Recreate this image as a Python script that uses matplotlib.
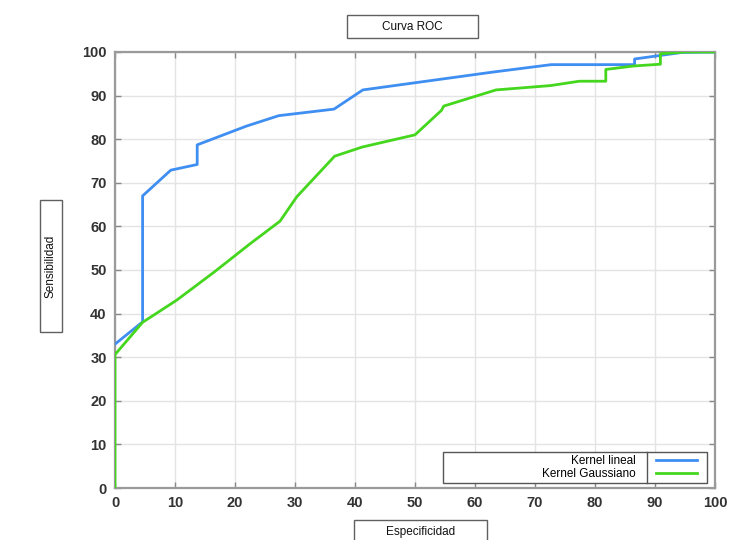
import matplotlib
matplotlib.use("Agg")
import matplotlib.pyplot as plt
from matplotlib.patches import Rectangle
from matplotlib.lines import Line2D

plt.rcParams['font.family'] = ['Liberation Sans', 'DejaVu Sans']

# ---- data ----
lin_x = [0, 4.6, 4.6, 9.3, 13.7, 13.7, 21.9, 27.3, 36.5, 41.3, 63.0, 72.7, 86.6, 86.6, 94.5, 100]
lin_y = [33, 38.1, 67, 72.9, 74.2, 78.7, 83.0, 85.4, 86.9, 91.3, 95.4, 97.1, 97.1, 98.4, 99.9, 100]

gau_x = [0, 0, 4.6, 10.3, 16.5, 22.5, 27.5, 30.3, 36.6, 41.2, 50.0, 54.4, 54.8, 63.5, 72.6, 77.4, 81.8, 81.8, 86.5, 90.9, 90.9, 95, 100]
gau_y = [0, 30.6, 38.0, 43.1, 49.5, 56.0, 61.2, 66.8, 76.1, 78.2, 81.0, 86.6, 87.6, 91.3, 92.3, 93.3, 93.3, 96.0, 96.8, 97.2, 99.6, 100, 100]

series_labels = ["Kernel lineal", "Kernel Gaussiano"]
ticks = [0, 10, 20, 30, 40, 50, 60, 70, 80, 90, 100]
title_text = "Curva ROC"
xlabel_text = "Especificidad"
ylabel_text = "Sensibilidad"

BLUE = '#3f8ef2'
GREEN = '#45d61e'

fig = plt.figure(figsize=(7.33, 5.40), dpi=100)
W, H = 733, 540
ax = fig.add_axes([115 / W, 1 - 488 / H, 600 / W, 436 / H])

ax.plot(lin_x, lin_y, color=BLUE, lw=2.0, label=series_labels[0], solid_joinstyle='round', zorder=3)
ax.plot(gau_x, gau_y, color=GREEN, lw=2.0, label=series_labels[1], solid_joinstyle='round', zorder=3)

ax.set_xlim(0, 100)
ax.set_ylim(0, 100)
ax.set_xticks(ticks)
ax.set_yticks(ticks)
ax.grid(True, color='#e4e4e4', lw=1.0)
ax.set_axisbelow(True)
for s in ax.spines.values():
    s.set_color('#9a9a9a')
    s.set_linewidth(1.6)
ax.tick_params(direction='in', length=4, width=1, color='#888888',
               top=True, right=True, labelsize=10.5, labelcolor='#2a2a2a', pad=6)
for lab in ax.get_xticklabels() + ax.get_yticklabels():
    lab.set_fontweight('bold')
    lab.set_color('#333333')

# legend (text first, then handle), then framed with a divider
leg = ax.legend(loc='center right', bbox_to_anchor=(0.97, (0.0115 + 0.0826) / 2),
                markerfirst=False, frameon=False, fontsize=8.5, handlelength=3.5,
                handletextpad=1.7, labelspacing=0.12, borderpad=0, borderaxespad=0)
ax.add_patch(Rectangle((0.547, 0.0115), 0.987 - 0.547, 0.0826 - 0.0115, transform=ax.transAxes,
                       fc='none', ec='#555555', lw=1.0, zorder=5))
ax.add_line(Line2D([0.887, 0.887], [0.0115, 0.0826], transform=ax.transAxes,
                   color='#555555', lw=1.0, zorder=5))
ax.add_patch(Rectangle((0.547, 0.0115), 0.987 - 0.547, 0.0826 - 0.0115, transform=ax.transAxes,
                       fc='white', ec='none', zorder=2.5))

# boxed labels in figure coordinates
def boxed(x0, y0, x1, y1, text, rot=0):
    fig.patches.append(Rectangle((x0 / W, 1 - y1 / H), (x1 - x0) / W, (y1 - y0) / H,
                                 transform=fig.transFigure, fc='white', ec='#606060', lw=1.0))
    fig.text((x0 + x1) / 2 / W, 1 - (y0 + y1) / 2 / H, text, ha='center', va='center',
             rotation=rot, fontsize=8.5, color='#111111')

boxed(347, 15, 478, 38, title_text)
boxed(40, 200, 62, 332, ylabel_text, rot=90)
boxed(354, 520, 487, 544, xlabel_text)

fig.savefig('out.png', dpi=100)
